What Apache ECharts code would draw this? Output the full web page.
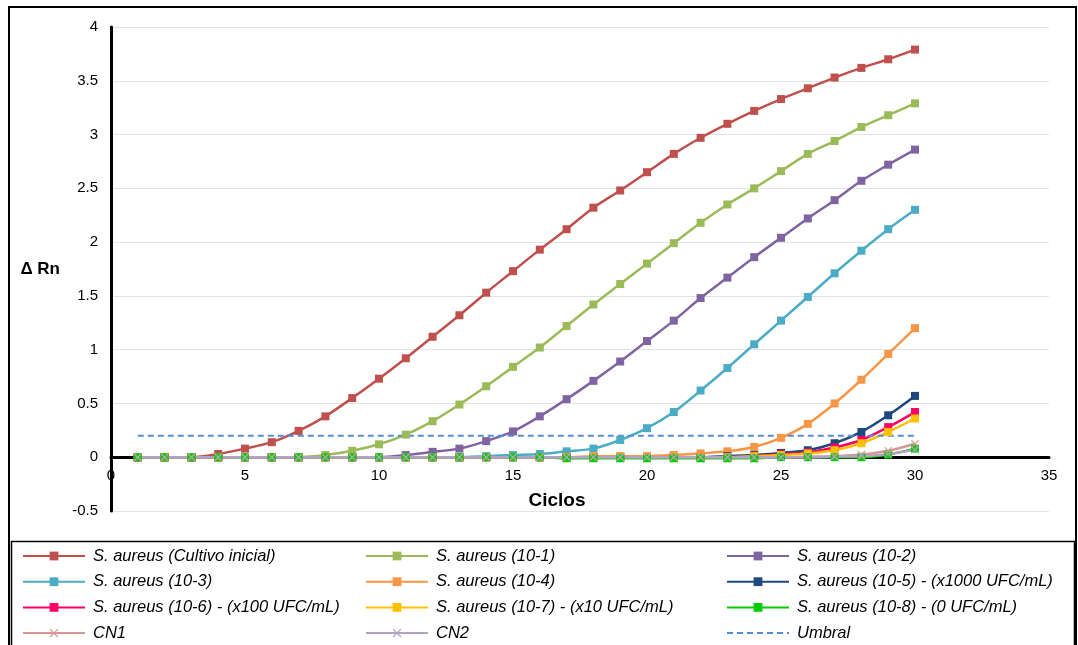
<!DOCTYPE html>
<html>
<head>
<meta charset="utf-8">
<script src="https://cdn.jsdelivr.net/npm/echarts@6/dist/echarts.min.js"></script>
<style>
  html, body { margin: 0; padding: 0; background: #fff; }
  #chart { width: 1078px; height: 645px; }
</style>
</head>
<body>
<div id="chart"></div>
<script>
// Amplification cycles
const cycles = [1, 2, 3, 4, 5, 6, 7, 8, 9, 10, 11, 12, 13, 14, 15, 16, 17, 18, 19, 20, 21, 22, 23, 24, 25, 26, 27, 28, 29, 30];

// ΔRn per cycle for each sample
const cultivoInicial = [0, 0, 0, 0.03, 0.08, 0.14, 0.245, 0.38, 0.55, 0.73, 0.92, 1.12, 1.32, 1.53, 1.73, 1.93, 2.12, 2.32, 2.48, 2.65, 2.82, 2.97, 3.10, 3.22, 3.33, 3.43, 3.53, 3.62, 3.70, 3.79];
const dil1 = [0, 0, 0, 0, 0, 0, 0, 0.02, 0.06, 0.12, 0.21, 0.335, 0.49, 0.66, 0.84, 1.02, 1.22, 1.42, 1.61, 1.80, 1.99, 2.18, 2.35, 2.50, 2.66, 2.82, 2.94, 3.07, 3.18, 3.29];
const dil2 = [0, 0, 0, 0, 0, 0, 0, 0, 0, 0, 0.02, 0.05, 0.08, 0.15, 0.24, 0.38, 0.54, 0.71, 0.89, 1.08, 1.27, 1.48, 1.67, 1.86, 2.04, 2.22, 2.39, 2.57, 2.72, 2.86];
const dil3 = [0, 0, 0, 0, 0, 0, 0, 0, 0, 0, 0, 0, 0, 0.01, 0.02, 0.03, 0.055, 0.08, 0.16, 0.27, 0.42, 0.62, 0.83, 1.05, 1.27, 1.49, 1.71, 1.92, 2.12, 2.30];
const dil4 = [0, 0, 0, 0, 0, 0, 0, 0, 0, 0, 0, 0, 0, 0, 0, 0, 0, 0.01, 0.01, 0.01, 0.02, 0.035, 0.055, 0.095, 0.18, 0.31, 0.50, 0.72, 0.96, 1.20];
const dil5 = [0, 0, 0, 0, 0, 0, 0, 0, 0, 0, 0, 0, 0, 0, 0, 0, 0, 0, 0, 0, 0, 0, 0.01, 0.02, 0.04, 0.065, 0.13, 0.235, 0.39, 0.57];
const dil6 = [0, 0, 0, 0, 0, 0, 0, 0, 0, 0, 0, 0, 0, 0, 0, 0, 0, 0, 0, 0, 0, 0, 0, 0.01, 0.03, 0.045, 0.09, 0.16, 0.28, 0.42];
const dil7 = [0, 0, 0, 0, 0, 0, 0, 0, 0, 0, 0, 0, 0, 0, 0, 0, 0, 0, 0, 0, 0, 0, 0, 0.01, 0.02, 0.035, 0.065, 0.13, 0.235, 0.36];
const dil8 = [0, 0, 0, 0, 0, 0, 0, 0, 0, 0, 0, 0, 0, 0, 0, 0, -0.01, -0.01, -0.01, -0.01, -0.01, -0.01, -0.01, -0.01, 0, 0, 0, 0, 0.025, 0.08];
const cn1 = [0, 0, 0, 0, 0, 0, 0, 0, 0, 0, 0, 0, 0, 0, 0, 0, 0, 0, 0, 0, 0, 0, 0, 0, 0, 0.005, 0.01, 0.025, 0.06, 0.125];
const cn2 = [0, 0, 0, 0, 0, 0, 0, 0, 0, 0, 0, 0, 0, 0, 0, 0, 0, 0, 0, 0, 0, 0, 0, 0, 0, 0, 0.005, 0.01, 0.03, 0.07];
const umbral = 0.2;

// Axis ticks
const xTicks = { min: 0, max: 35, interval: 5 };
const yTicks = { min: -0.5, max: 4, interval: 0.5 };

const FONT = 'Liberation Sans, Arial, sans-serif';
const CROSS = 'path://M0,1 L1,0 L5,4 L9,0 L10,1 L6,5 L10,9 L9,10 L5,6 L1,10 L0,9 L4,5 Z';

const seriesDefs = [
  { name: 'S. aureus (Cultivo inicial)', values: cultivoInicial, color: '#C0504D', symbol: 'rect' },
  { name: 'S. aureus (10-1)', values: dil1, color: '#9BBB59', symbol: 'rect' },
  { name: 'S. aureus (10-2)', values: dil2, color: '#8064A2', symbol: 'rect' },
  { name: 'S. aureus (10-3)', values: dil3, color: '#4BACC6', symbol: 'rect' },
  { name: 'S. aureus (10-4)', values: dil4, color: '#F79646', symbol: 'rect' },
  { name: 'S. aureus (10-5) - (x1000 UFC/mL)', values: dil5, color: '#1F497D', symbol: 'rect' },
  { name: 'S. aureus (10-6) - (x100 UFC/mL)', values: dil6, color: '#FF0066', symbol: 'rect' },
  { name: 'S. aureus (10-7) - (x10 UFC/mL)', values: dil7, color: '#FFC000', symbol: 'rect' },
  { name: 'S. aureus (10-8) - (0 UFC/mL)', values: dil8, color: '#00CC00', symbol: 'rect' },
  { name: 'CN1', values: cn1, color: '#D99694', symbol: CROSS },
  { name: 'CN2', values: cn2, color: '#B3A2C7', symbol: CROSS }
];

const series = seriesDefs.map(d => ({
  name: d.name,
  type: 'line',
  data: cycles.map((c, i) => [c, d.values[i]]),
  smooth: 0.3,
  symbol: d.symbol,
  symbolSize: 8,
  showAllSymbol: true,
  color: d.color,
  lineStyle: { width: 2.5, color: d.color },
  itemStyle: { color: d.color },
  emphasis: { disabled: true },
  animation: false
}));

// Detection threshold
series.push({
  name: 'Umbral',
  type: 'line',
  data: [[cycles[0], umbral], [cycles[cycles.length - 1], umbral]],
  symbol: 'none',
  color: '#558ED5',
  lineStyle: { width: 2, color: '#558ED5', type: [6, 4] },
  emphasis: { disabled: true },
  animation: false
});

// Legend laid out in three columns, filled row by row
const legendNames = seriesDefs.map(d => d.name).concat(['Umbral']);
const colLeft = [22, 365, 726];
const legends = colLeft.map((left, col) => ({
  orient: 'vertical',
  left: left,
  top: 547,
  padding: 0,
  itemWidth: 62,
  itemHeight: 11,
  itemGap: 7.7,
  selectedMode: false,
  textStyle: {
    fontFamily: FONT,
    fontSize: 16.5,
    fontStyle: 'italic',
    color: '#000',
    lineHeight: 18,
    padding: [0, 0, 0, 3]
  },
  data: legendNames.filter((n, i) => i % 3 === col).map(n =>
    n === 'Umbral' ? { name: n, itemStyle: { opacity: 0 } } : { name: n })
}));

const chart = echarts.init(document.getElementById('chart'), null, { renderer: 'canvas' });
chart.setOption({
  animation: false,
  backgroundColor: '#fff',
  grid: { left: 111, right: 29, top: 27, bottom: 134 },
  xAxis: {
    type: 'value',
    min: xTicks.min, max: xTicks.max, interval: xTicks.interval,
    name: 'Ciclos',
    nameLocation: 'middle',
    nameGap: -20,
    nameTextStyle: {
      fontFamily: FONT,
      fontSize: 19, fontWeight: 'bold', color: '#000',
      padding: [0, 46, 0, 0]
    },
    axisLine: { onZero: true, lineStyle: { color: '#000', width: 3 } },
    axisTick: { show: false },
    splitLine: { show: false },
    axisLabel: { margin: -43, fontFamily: FONT, fontSize: 15, color: '#000' }
  },
  yAxis: {
    type: 'value',
    min: yTicks.min, max: yTicks.max, interval: yTicks.interval,
    name: 'Δ Rn',
    nameLocation: 'middle',
    nameRotate: 0,
    nameGap: 51,
    nameTextStyle: {
      fontFamily: FONT,
      fontSize: 17, fontWeight: 'bold', color: '#000',
      padding: [6, 0, 0, 0]
    },
    axisLine: { show: true, lineStyle: { color: '#000', width: 3 } },
    axisTick: { show: false },
    splitLine: { show: true, lineStyle: { color: '#E3E3E3', width: 1 } },
    axisLabel: { margin: 13, fontFamily: FONT, fontSize: 15, color: '#000' }
  },
  legend: legends,
  graphic: [
    { type: 'rect', shape: { x: 9, y: 7, width: 1067, height: 700 }, style: { fill: 'none', stroke: '#000', lineWidth: 2 }, silent: true },
    { type: 'rect', shape: { x: 11.5, y: 541.5, width: 1063, height: 200 }, style: { fill: 'none', stroke: '#000', lineWidth: 1.5 }, silent: true }
  ],
  series: series
});
</script>
</body>
</html>
